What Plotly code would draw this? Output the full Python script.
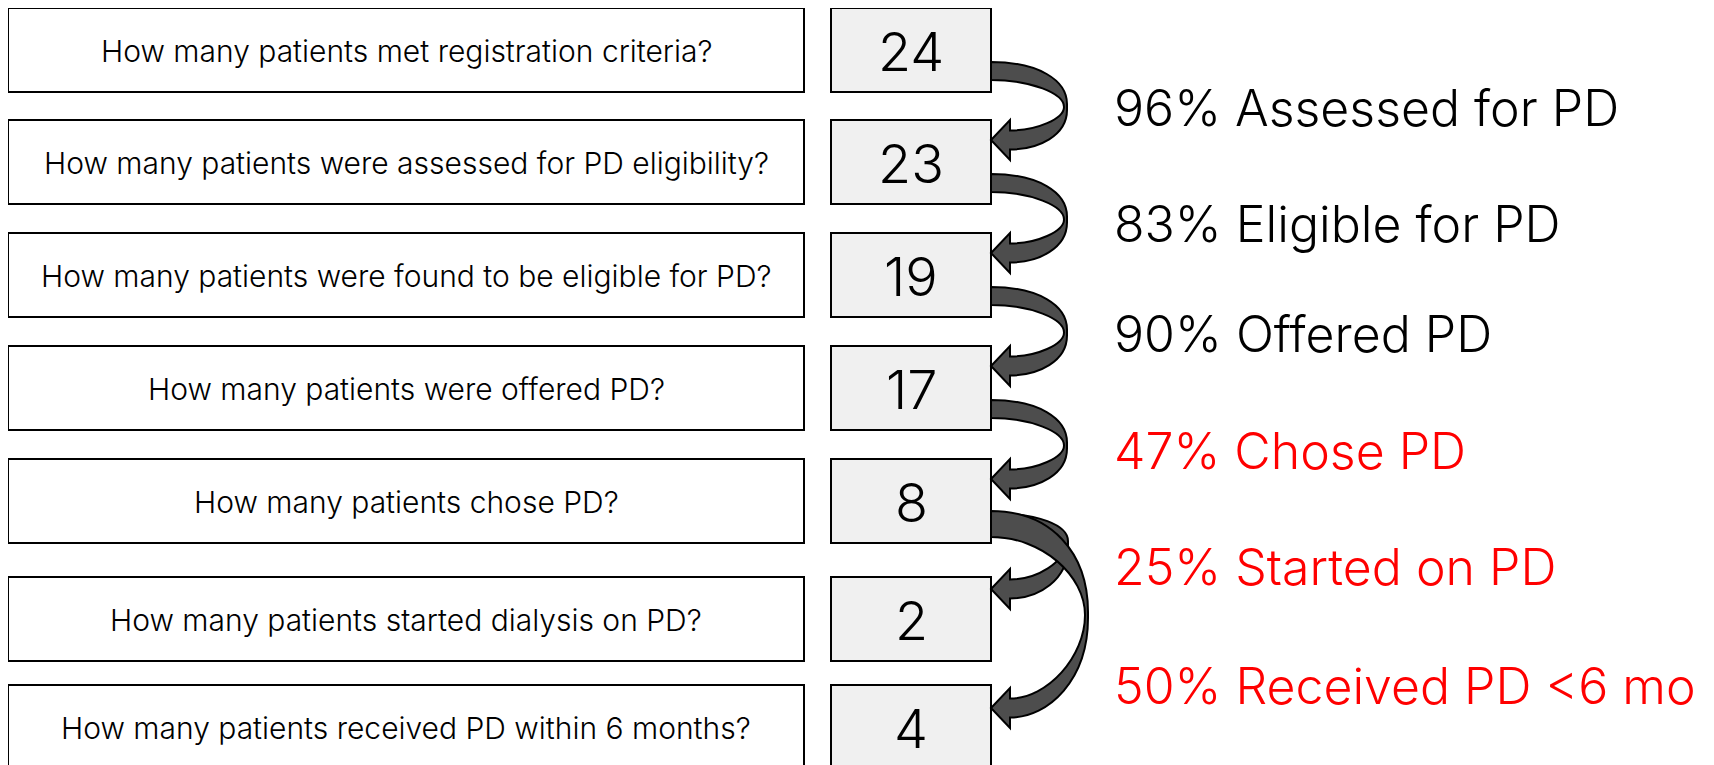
import plotly.graph_objects as go

# ---------------- data ----------------
questions = [
    "How many patients met registration criteria?",
    "How many patients were assessed for PD eligibility?",
    "How many patients were found to be eligible for PD?",
    "How many patients were offered PD?",
    "How many patients chose PD?",
    "How many patients started dialysis on PD?",
    "How many patients received PD within 6 months?",
]
counts = [24, 23, 19, 17, 8, 2, 4]
step_labels = [
    "96% Assessed for PD",
    "83% Eligible for PD",
    "90% Offered PD",
    "47% Chose PD",
    "25% Started on PD",
    "50% Received PD <6 mo",
]
step_highlight = [False, False, False, True, True, True]
arrow_from = [0, 1, 2, 3, 4, 4]
arrow_to = [1, 2, 3, 4, 5, 6]

# ---------------- layout constants (page pixels) ----------------
W, H = 1714, 765
PAGE_OFF = 8  # body margin of the html page
ROW_TOP = [8, 120, 233, 346, 459, 577, 685]
ROW_H = 84
Q_X0, Q_X1 = 8, 804
N_X0, N_X1 = 831, 991
LABEL_X = 1112
LABEL_Y = [108, 224, 334, 451, 567, 686]
FONT = "Inter, Liberation Sans, Arial, sans-serif"
WEIGHT = 300
RED = "#ff0000"

ARROW_STYLE = [
    dict(a=12, b=30, dx=76, tip=-22, turn=None),
    dict(a=12, b=30, dx=76, tip=-22, turn=None),
    dict(a=12, b=30, dx=76, tip=-22, turn=None),
    dict(a=12, b=30, dx=76, tip=-22, turn=None),
    dict(a=12, b=36, dx=77, tip=-30, turn=43),
    dict(a=10, b=36, dx=97, tip=-19, turn=None),
]


def centre(i):
    return ROW_TOP[i] + ROW_H / 2


def arrow_path(R, a, b, xt, yt, ytip, hl=19, hw=20, sw=9.5):
    p = f"M {R},{a} "
    p += f"C {R + 0.62 * (xt - R)},{a} {xt},{yt - 0.6 * (yt - a)} {xt},{yt - 3} "
    p += f"L {xt},{yt + 3} "
    yl = ytip + sw
    p += f"C {xt},{yt + 3 + 0.6 * (yl - yt)} {R + hl + 0.5 * (xt - R - hl)},{yl} {R + hl},{yl} "
    p += f"L {R + hl},{ytip + hw} L {R},{ytip} L {R + hl},{ytip - hw} "
    yu = ytip - sw
    p += f"L {R + hl},{yu} "
    xi, yi = xt - 3, yt
    p += f"C {R + hl + 0.5 * (xi - R - hl)},{yu} {xi},{yi + 0.5 * (yu - yi)} {xi},{yi} "
    p += f"C {xi},{yi - 0.5 * (yi - b)} {R + 0.55 * (xi - R)},{b} {R},{b} Z"
    return p


fig = go.Figure()
fig.add_trace(go.Scatter(x=[PAGE_OFF, W], y=[PAGE_OFF, H], mode="markers",
                         marker=dict(opacity=0), hoverinfo="skip", showlegend=False))

shapes = []
annotations = []

for i, (q, n) in enumerate(zip(questions, counts)):
    y0 = ROW_TOP[i]
    y1 = y0 + ROW_H
    shapes.append(dict(type="rect", xref="x", yref="y", x0=Q_X0, x1=Q_X1, y0=y0, y1=y1,
                       line=dict(color="#000000", width=2), fillcolor="#ffffff", layer="below"))
    shapes.append(dict(type="rect", xref="x", yref="y", x0=N_X0, x1=N_X1, y0=y0, y1=y1,
                       line=dict(color="#000000", width=2), fillcolor="#f0f0f0", layer="below"))
    annotations.append(dict(x=(Q_X0 + Q_X1) / 2, y=centre(i) + 1, xref="x", yref="y",
                            text=q, showarrow=False, xanchor="center", yanchor="middle",
                            font=dict(family=FONT, size=30, weight=WEIGHT, color="#000000")))
    annotations.append(dict(x=(N_X0 + N_X1) / 2, y=centre(i) + 1, xref="x", yref="y",
                            text=str(n), showarrow=False, xanchor="center", yanchor="middle",
                            font=dict(family=FONT, size=54, weight=WEIGHT, color="#000000")))

for k, (f, t) in enumerate(zip(arrow_from, arrow_to)):
    st = ARROW_STYLE[k]
    ci, cj = centre(f), centre(t)
    R = N_X1
    a, b = ci + st["a"], ci + st["b"]
    xt = R + st["dx"]
    yt = ci + st["turn"] if st["turn"] is not None else (ci + cj) / 2 + 1
    ytip = cj + st["tip"]
    shapes.append(dict(type="path", xref="x", yref="y",
                       path=arrow_path(R, a, b, xt, yt, ytip),
                       fillcolor="#4d4d4d", line=dict(color="#000000", width=2), layer="above"))

for k, lab in enumerate(step_labels):
    annotations.append(dict(x=LABEL_X, y=LABEL_Y[k], xref="x", yref="y", text=lab,
                            showarrow=False, xanchor="left", yanchor="middle",
                            font=dict(family=FONT, size=50, weight=WEIGHT,
                                      color=RED if step_highlight[k] else "#000000")))

fig.update_layout(
    width=W, height=H,
    margin=dict(l=0, r=0, t=0, b=0),
    paper_bgcolor="#ffffff", plot_bgcolor="#ffffff",
    xaxis=dict(range=[PAGE_OFF, W + PAGE_OFF], visible=False, fixedrange=True),
    yaxis=dict(range=[H + PAGE_OFF, PAGE_OFF], visible=False, fixedrange=True),
    shapes=shapes, annotations=annotations, showlegend=False,
)

fig.write_html("out.html", config={"displayModeBar": False})
